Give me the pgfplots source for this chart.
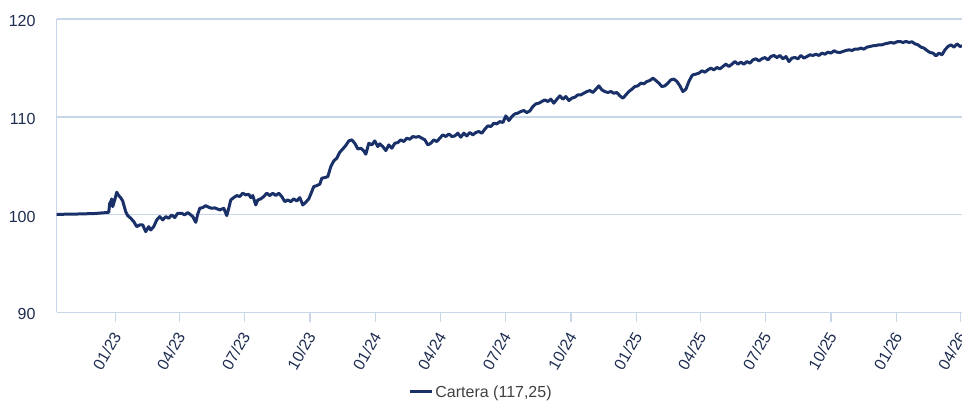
\documentclass[border=0pt]{standalone}
\usepackage{pgfplots}
\pgfplotsset{compat=1.18}
\usepackage{pgfplotstable}
\usepackage{fontspec}
\setmainfont{Liberation Sans}
\definecolor{navy}{HTML}{1A3068}
\definecolor{gridc}{HTML}{C9D5E8}
\definecolor{labc}{HTML}{1E2D50}
\definecolor{legc}{HTML}{404040}

\pgfplotstableread{
d v
-82.4 100.02
-60 100.04
-30 100.10
-9.4 100.22
-8.0 101.15
-6.6 101.30
-5.2 101.60
-3.8 100.81
-1.0 101.49
1.8 102.28
4.6 101.94
7.4 101.73
10.2 101.39
14.4 100.30
17.2 99.89
21.5 99.62
25.7 99.28
29.9 98.76
34.1 98.94
38.3 98.94
42.5 98.25
46.7 98.76
49.5 98.42
53.7 98.76
58.0 99.45
62.2 99.79
66.4 99.45
70.6 99.79
74.8 99.62
79.0 99.96
83.2 99.69
87.4 100.13
93.0 100.13
97.2 99.96
101.5 100.20
105.7 99.96
108.5 99.79
112.7 99.20
115.5 100.03
118.3 100.64
122.5 100.71
126.7 100.91
130.9 100.74
135.1 100.64
139.4 100.68
146.4 100.47
152.0 100.64
156.2 99.89
159.0 100.64
161.8 101.49
166.0 101.73
170.2 101.94
174.5 101.84
178.6 102.18
182.9 102.01
187.1 102.07
189.9 101.73
192.7 101.94
196.9 100.98
199.7 101.49
203.9 101.60
208.1 101.84
212.3 102.18
216.5 101.94
220.8 102.18
225.0 101.94
229.2 102.18
233.4 101.84
237.6 101.32
241.8 101.49
246.0 101.32
250.2 101.60
254.4 101.39
258.7 101.73
262.9 100.98
267.1 101.26
271.3 101.60
275.5 102.35
278.3 102.86
282.5 102.96
286.7 103.10
289.5 103.71
293.7 103.78
298.0 103.88
302.2 104.91
306.4 105.49
310.6 105.76
314.8 106.37
319.0 106.71
323.2 107.06
327.4 107.53
331.6 107.64
335.8 107.29
340.1 106.71
344.3 106.78
348.5 106.51
351.3 106.17
355.5 107.29
359.7 107.12
363.9 107.53
368.1 106.95
370.9 107.23
375.1 106.95
379.4 106.54
383.6 107.12
387.8 106.78
392.0 107.29
396.2 107.36
400.4 107.64
404.6 107.46
408.8 107.81
413.0 107.70
417.2 107.98
421.5 107.91
425.7 107.98
429.9 107.81
434.1 107.64
438.3 107.12
442.5 107.29
446.7 107.64
450.9 107.46
455.1 107.81
459.4 108.15
463.6 107.98
467.8 108.25
472.0 107.98
476.2 108.04
480.4 108.32
484.6 107.91
488.8 108.32
493.0 108.04
497.2 108.39
501.5 108.15
505.7 108.39
509.9 108.49
514.1 108.32
518.3 108.73
522.5 109.07
526.7 109.00
530.9 109.34
535.1 109.27
539.4 109.51
543.6 109.41
547.8 110.09
552.0 109.61
556.2 110.02
560.4 110.30
564.6 110.37
568.8 110.54
573.0 110.64
577.2 110.43
581.5 110.60
585.7 111.05
589.9 111.32
594.1 111.39
598.3 111.56
602.5 111.73
606.7 111.56
610.9 111.80
615.1 111.39
619.4 111.80
623.6 112.14
627.8 111.80
632.0 112.07
636.2 111.66
640.4 111.90
644.6 112.00
648.8 112.24
653.0 112.24
657.2 112.41
661.5 112.58
665.7 112.68
669.9 112.48
674.1 112.82
678.3 113.16
682.5 112.75
686.7 112.58
690.9 112.48
695.1 112.58
699.4 112.41
703.6 112.48
707.8 112.14
712.0 111.90
716.2 112.24
720.4 112.58
724.6 112.82
728.8 113.09
733.0 113.16
737.2 113.44
741.5 113.37
745.7 113.61
749.9 113.71
754.1 113.95
758.3 113.71
762.5 113.44
766.7 113.09
770.9 113.16
775.1 113.44
779.4 113.78
783.6 113.85
787.8 113.61
792.0 113.16
796.2 112.58
800.4 112.82
804.6 113.61
808.8 114.19
810.2 114.29
814.4 114.36
818.6 114.46
822.9 114.70
827.1 114.56
831.3 114.80
835.5 114.97
839.7 114.80
843.9 115.04
848.1 114.90
852.3 115.14
856.5 115.38
860.8 115.14
865.0 115.38
869.2 115.65
873.4 115.38
877.6 115.59
881.8 115.38
886.0 115.65
890.2 115.48
894.4 115.82
898.6 115.93
902.9 115.72
907.1 115.93
911.3 116.06
915.5 115.82
919.7 116.16
923.9 116.27
928.1 116.06
932.3 116.27
936.5 115.93
940.8 116.16
945.0 115.65
949.2 116.00
953.4 116.06
957.6 115.93
961.8 116.27
966.0 116.00
970.2 116.16
974.4 116.34
978.6 116.27
982.9 116.40
987.1 116.27
991.3 116.51
995.5 116.40
999.7 116.61
1003.9 116.51
1008.1 116.75
1012.3 116.61
1016.5 116.57
1020.8 116.68
1025.0 116.78
1029.2 116.85
1033.4 116.78
1037.6 116.92
1041.8 116.92
1046.0 117.02
1050.2 116.92
1054.4 117.12
1058.7 117.19
1062.9 117.26
1067.1 117.29
1071.3 117.36
1075.5 117.36
1079.7 117.46
1083.9 117.53
1088.1 117.60
1092.3 117.53
1096.5 117.67
1100.8 117.70
1105.0 117.60
1109.2 117.70
1113.4 117.60
1117.6 117.67
1121.8 117.46
1126.0 117.36
1130.2 117.12
1134.4 117.02
1138.7 116.78
1142.9 116.57
1147.1 116.51
1151.3 116.23
1155.5 116.51
1159.7 116.34
1163.9 116.85
1168.1 117.19
1172.3 117.36
1176.6 117.12
1180.8 117.46
1185.0 117.19
1187.8 117.25
}\cartera

\begin{document}
\begin{tikzpicture}
\begin{axis}[
  at={(0,0)}, anchor=south west,
  scale only axis, width=905.3bp, height=293.3bp,
  xmin=-82.4, xmax=1187.8, ymin=90, ymax=120,
  axis x line*=bottom, axis y line*=left,
  axis line style={draw=gridc, line width=1.5bp},
  ytick={90,100,110,120},
  ymajorgrids, grid style={draw=gridc, line width=1.5bp},
  xtick={0,90,181,273,365,456,547,639,731,821,912,1004,1096,1186},
  xticklabels={01/23,04/23,07/23,10/23,01/24,04/24,07/24,10/24,01/25,04/25,07/25,10/25,01/26,04/26},
  tick align=outside, major tick length=10bp,
  xtick style={draw=gridc, line width=1.5bp},
  ytick style={draw=none},
  /pgf/number format/assume math mode=true,
  tick label style={font=\fontsize{16bp}{19bp}\selectfont, text=labc},
  xticklabel style={anchor=east, inner sep=0pt, xshift=1.5bp, yshift=-11bp, rotate=60},
  yticklabel style={anchor=east, inner sep=0pt, xshift=-11bp, yshift=-2bp},
  legend style={at={(axis description cs:0.4687,-0.2717)}, anchor=center, draw=none, fill=none,
    font=\fontsize{16bp}{19bp}\selectfont, text=legc},
  legend image code/.code={\draw[#1, line width=3bp] (0bp,0bp) -- (22bp,0bp);},
  clip=false,
]
\addplot[navy, line width=3bp, line join=round] table[x=d, y=v] {\cartera};
\addlegendentry{Cartera (117,25)}
\end{axis}
\pgfresetboundingbox
\path[use as bounding box] (-56.7bp,-88.7bp) rectangle (905.3bp,312.3bp);
\end{tikzpicture}
\end{document}
